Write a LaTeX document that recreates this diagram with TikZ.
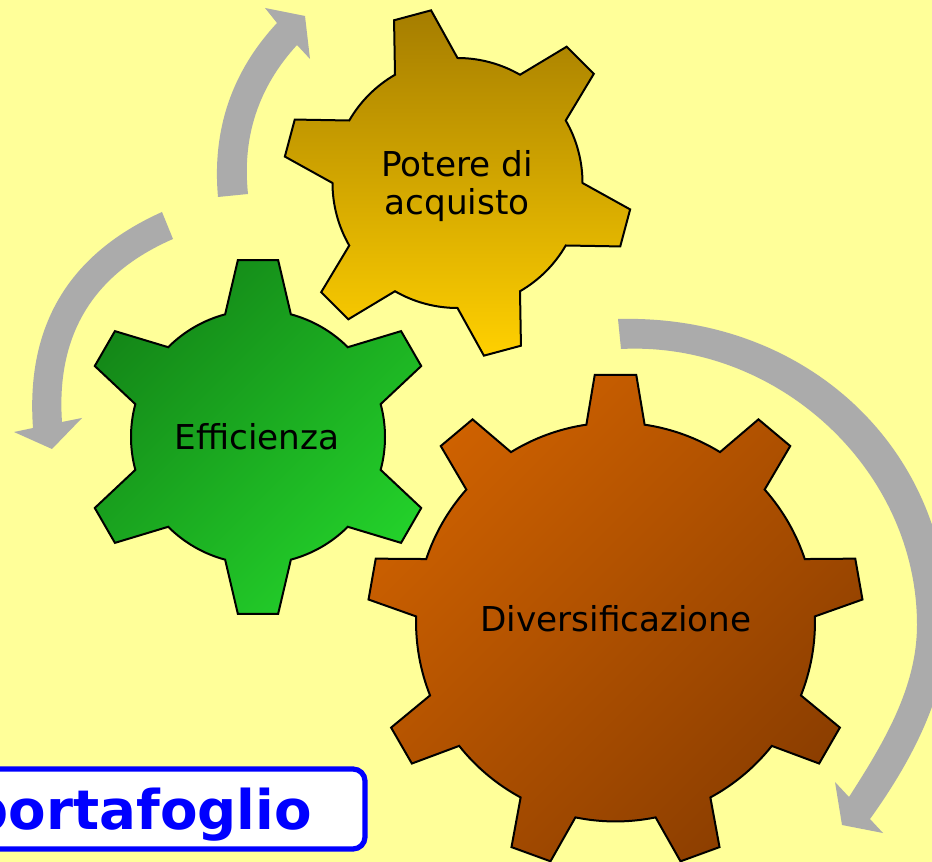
\documentclass[tikz,border=0pt]{standalone}
\usepackage{fontspec}
\setmainfont{DejaVu Sans}
\definecolor{bgyellow}{HTML}{FFFF99}
\definecolor{arrowgrey}{HTML}{ABABAB}
\definecolor{titleblue}{RGB}{0,0,255}
\definecolor{greenA}{RGB}{20,136,24}
\definecolor{greenB}{RGB}{29,172,36}
\definecolor{greenC}{RGB}{35,208,42}
\definecolor{yellowA}{RGB}{165,125,0}
\definecolor{yellowB}{RGB}{234,182,0}
\definecolor{yellowC}{RGB}{255,208,0}
\definecolor{orangeA}{RGB}{206,97,0}
\definecolor{orangeB}{RGB}{190,88,0}
\definecolor{orangeC}{RGB}{140,62,0}
\tikzset{
  gearline/.style={draw=black,line width=1.5pt,miter limit=10},
  greyarrow/.style={fill=arrowgrey,draw=none},
  gearlabel/.style={font=\fontsize{25.7}{28.5}\selectfont,text=black,align=center,inner sep=0pt},
  greenshade/.style={top color=greenA,middle color=greenB,bottom color=greenC,shading angle=45},
  yellowshade/.style={top color=yellowA,middle color=yellowB,bottom color=yellowC},
  orangeshade/.style={top color=orangeA,middle color=orangeB,bottom color=orangeC,shading angle=45},
}
% #1 centre, #2 last tooth index, #3 phase, #4 step, #5 Rbody pt, #6 Rtip pt, #7 dbase, #8 dtip, #9 style
\newcommand{\gearpath}[9]{%
  \begin{scope}[shift={#1}]
  \path[gearline,#9] ({#3-#7}:#5pt)
    \foreach \i [evaluate=\i as \a using #3+\i*#4,
                 evaluate=\i as \s using #3+\i*#4+#7,
                 evaluate=\i as \e using #3+\i*#4+#4-#7] in {0,...,#2} {
      -- ({\a-#8}:#6pt) -- ({\a+#8}:#6pt) -- ({\a+#7}:#5pt)
      arc[start angle=\s,end angle=\e,radius=#5pt]
    } -- cycle;
  \end{scope}}
\begin{document}
\begin{tikzpicture}[x=0.75pt,y=-0.75pt]
\useasboundingbox (0,0) rectangle (932,862);
\clip (0,0) rectangle (932,862);
\fill[bgyellow] (0,0) rectangle (932,862);

% grey arrows
\path[greyarrow] (218,197) .. controls (212,130) and (231.5,72) .. (277,23)
  -- (265,8) -- (305,16) -- (310,59) -- (297,45)
  .. controls (258.3,87.3) and (242,137) .. (248,194) -- cycle;
\path[greyarrow] (162,212) .. controls (68.6,253.9) and (25.6,325.9) .. (33,428)
  -- (14,432) -- (52,449) -- (82,418) -- (62,422)
  .. controls (56,334.8) and (93,273.8) .. (173,239) -- cycle;
\path[greyarrow] (618,319) .. controls (808,314) and (948,450) .. (948,623)
  .. controls (948,693) and (911,762) .. (870,819)
  -- (883,833) -- (842,825) -- (835,782) -- (849,797)
  .. controls (883,744) and (917,688) .. (917,625)
  .. controls (917,469) and (777,341) .. (621,349) -- cycle;

% gears
\gearpath{(258,437)}{5}{30}{60}{95.25}{133.5}{15}{6.5}{greenshade}
\gearpath{(457.5,183)}{5}{-15}{60}{93.75}{131}{15}{6.3}{yellowshade}
\gearpath{(615.5,622)}{8}{10}{40}{149.6}{186}{8.4}{4.8}{orangeshade}

\node[gearlabel] (eff) at (257,437) {Efficienza};
\node[gearlabel] (pot) at (457,186) {Potere di\\acquisto};
\node[gearlabel] (div) at (616,619) {Diversificazione};

% title box
\draw[draw=titleblue,fill=white,line width=3.9pt,rounded corners=9pt] (-30,769) rectangle (365,849);
\node[anchor=base east,inner sep=0pt,text=titleblue,font=\fontsize{41}{50}\selectfont\bfseries] (title) at (312,829) {portafoglio};
\end{tikzpicture}
\end{document}
